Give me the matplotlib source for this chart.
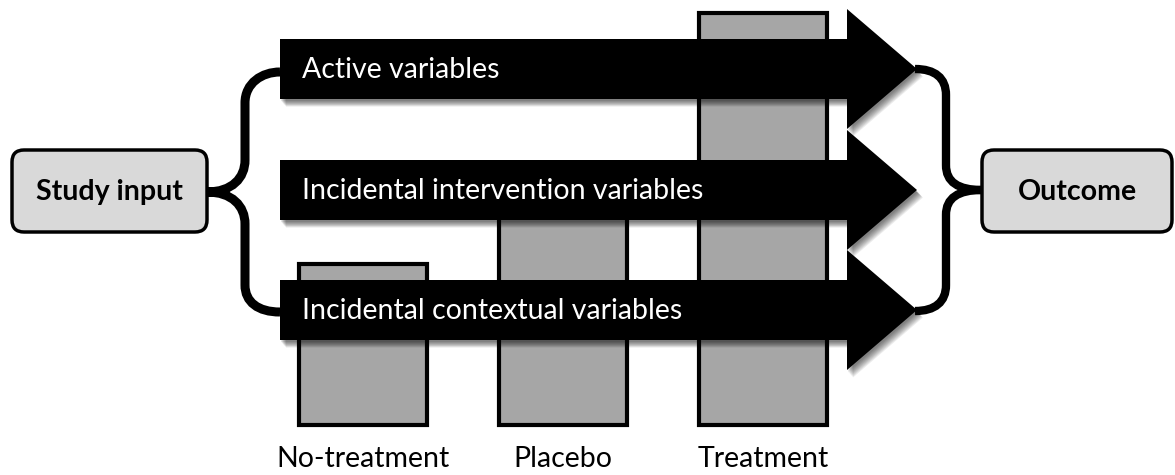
import matplotlib.pyplot as plt
from matplotlib.patches import Polygon, FancyBboxPatch, PathPatch
from matplotlib.path import Path

plt.rcParams["font.family"] = ["Lato", "DejaVu Sans"]

groups = ["No-treatment", "Placebo", "Treatment"]
response = [39, 63, 100]
paths = ["Active variables", "Incidental intervention variables", "Incidental contextual variables"]
start_label = "Study input"
end_label = "Outcome"

W, H = 1175, 475
fig = plt.figure(figsize=(W / 100, H / 100), dpi=100)

# bar chart underneath (100 = tallest bar)
bar_ax = fig.add_axes([0, 50 / H, 1, 412 / H])
bar_ax.bar(range(len(groups)), response, width=0.64, color="#a6a6a6",
           edgecolor="black", linewidth=3, clip_on=False)
bar_ax.set_xlim(-363 / 200, (W - 363) / 200)
bar_ax.set_ylim(0, 100)
bar_ax.set_xticks(range(len(groups)), groups, fontsize=20.5)
bar_ax.tick_params(length=0, pad=15)
bar_ax.set_yticks([])
for s in bar_ax.spines.values():
    s.set_visible(False)
bar_ax.patch.set_alpha(0)

# diagram overlay in pixel units
ax = fig.add_axes([0, 0, 1, 1])
ax.set_xlim(0, W)
ax.set_ylim(H, 0)
ax.axis("off")
ax.patch.set_alpha(0)

x0, x1, tip = 280, 847, 917
body, head = 30, 60
centers = [69, 190, 310]


def arrow_pts(yc, dx=0, dy=0):
    pts = [(x0, yc - body), (x1, yc - body), (x1, yc - head), (tip, yc),
           (x1, yc + head), (x1, yc + body), (x0, yc + body)]
    return [(x + dx, y + dy) for x, y in pts]


for yc, label in zip(centers, paths):
    # soft drop shadow
    for i in range(8):
        ax.add_patch(Polygon(arrow_pts(yc, 1 + i * 0.7, 2 + i * 0.8), closed=True,
                             facecolor="black", edgecolor="none", alpha=0.08))
    ax.add_patch(Polygon(arrow_pts(yc), closed=True, facecolor="black", edgecolor="none"))
    ax.text(302, yc + 1, label, color="white", fontsize=20.5, va="center", ha="left")

# braces
C, L = Path.CURVE4, Path.LINETO
left = [(280, 72), (262, 72), (245, 83), (245, 103), (245, 160),
        (245, 178), (232, 192), (207, 192),
        (232, 192), (245, 206), (245, 224), (245, 285),
        (245, 302), (258, 312), (280, 312)]
lcodes = [Path.MOVETO, C, C, C, L, C, C, C, C, C, C, L, C, C, C]
ax.add_patch(PathPatch(Path(left, lcodes), facecolor="none", edgecolor="black",
                       linewidth=6.5, capstyle="butt"))
right = [(915, 69), (935, 69), (946, 78), (946, 95), (946, 165),
         (946, 182), (958, 190), (982, 190),
         (958, 190), (946, 198), (946, 215), (946, 285),
         (946, 302), (935, 311), (915, 311)]
ax.add_patch(PathPatch(Path(right, lcodes), facecolor="none", edgecolor="black",
                       linewidth=6, capstyle="butt"))

# end boxes
for (bx, bw), label in [((12, 195), start_label), ((982, 190), end_label)]:
    ax.add_patch(FancyBboxPatch((bx, 150), bw, 82, boxstyle="round,pad=0,rounding_size=12",
                                facecolor="#d9d9d9", edgecolor="black", linewidth=2.5))
    ax.text(bx + bw / 2, 192, label, fontsize=20.5, fontweight="bold", ha="center", va="center")

fig.savefig("out.png", dpi=100)
